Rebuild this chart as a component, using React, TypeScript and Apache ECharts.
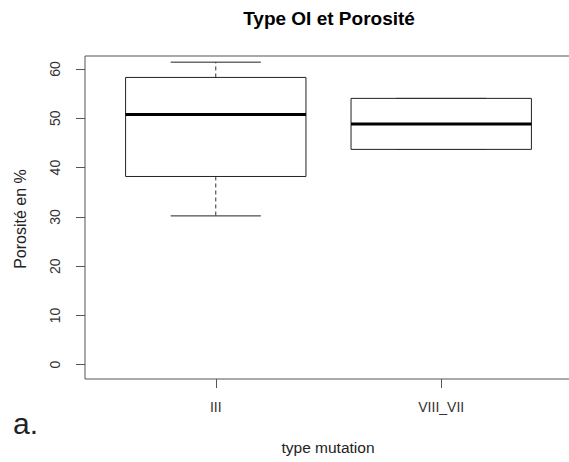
import React, { useEffect, useRef } from 'react';
import * as echarts from 'echarts';

const categories = ['III', 'VIII_VII'];
const whiskerLow = [30.2, 43.7];
const q1 = [38.2, 43.7];
const medians = [50.8, 48.85];
const q3 = [58.3, 54.05];
const whiskerHigh = [61.4, 54.05];
const yTicks = [0, 10, 20, 30, 40, 50, 60];
const xTicks = [1, 2];

const FONT = 'Liberation Sans, Arial, Helvetica, sans-serif';

export default function App() {
  const ref = useRef<HTMLDivElement>(null);
  useEffect(() => {
    const chart = echarts.init(ref.current as HTMLDivElement, null, { renderer: 'svg' });
    const data = categories.map((c, i) => [i + 1, whiskerLow[i], q1[i], medians[i], q3[i], whiskerHigh[i]]);
    const dashed = { stroke: '#333', lineWidth: 1, lineDash: [4, 3] };
    chart.setOption({
      animation: false,
      backgroundColor: '#ffffff',
      grid: {
        left: 85,
        top: 56,
        width: 487,
        height: 323,
        show: true,
        borderColor: '#555',
        borderWidth: 1,
        backgroundColor: 'transparent',
        containLabel: false,
        outerBoundsMode: 'none',
      },
      xAxis: {
        type: 'value',
        min: 0.42,
        max: 2.58,
        axisLine: { show: false, onZero: false },
        splitLine: { show: false },
        axisTick: { show: true, customValues: xTicks, length: 9, lineStyle: { color: '#555', width: 1 } },
        axisLabel: {
          show: true,
          customValues: xTicks,
          formatter: (v: number) => categories[Math.round(v) - 1] ?? '',
          margin: 21,
          fontSize: 14,
          color: '#333',
          fontFamily: FONT,
        },
      },
      yAxis: {
        type: 'value',
        min: -2.9,
        max: 62.65,
        axisLine: { show: false, onZero: false },
        splitLine: { show: false },
        axisTick: { show: true, customValues: yTicks, length: 9, lineStyle: { color: '#555', width: 1 } },
        axisLabel: {
          show: true,
          customValues: yTicks,
          rotate: 90,
          margin: 23,
          fontSize: 14,
          color: '#333',
          fontFamily: FONT,
        },
      },
      series: [
        {
          type: 'custom',
          data,
          encode: { x: 0, y: [1, 2, 3, 4, 5] },
          renderItem: (params: any, api: any) => {
            const x = api.value(0);
            const lo = api.coord([x, api.value(1)]);
            const b1 = api.coord([x, api.value(2)]);
            const md = api.coord([x, api.value(3)]);
            const b3 = api.coord([x, api.value(4)]);
            const hi = api.coord([x, api.value(5)]);
            const halfBox = api.size([0.4, 0])[0];
            const halfCap = api.size([0.2, 0])[0];
            const cx = lo[0];
            return {
              type: 'group',
              children: [
                { type: 'line', shape: { x1: cx, y1: b3[1], x2: cx, y2: hi[1] }, style: dashed },
                { type: 'line', shape: { x1: cx, y1: b1[1], x2: cx, y2: lo[1] }, style: dashed },
                { type: 'line', shape: { x1: cx - halfCap, y1: hi[1], x2: cx + halfCap, y2: hi[1] }, style: { stroke: '#222', lineWidth: 1 } },
                { type: 'line', shape: { x1: cx - halfCap, y1: lo[1], x2: cx + halfCap, y2: lo[1] }, style: { stroke: '#222', lineWidth: 1 } },
                {
                  type: 'rect',
                  shape: { x: cx - halfBox, y: b3[1], width: 2 * halfBox, height: b1[1] - b3[1] },
                  style: { fill: '#fff', stroke: '#222', lineWidth: 1 },
                },
                { type: 'line', shape: { x1: cx - halfBox, y1: md[1], x2: cx + halfBox, y2: md[1] }, style: { stroke: '#000', lineWidth: 3 } },
              ],
            };
          },
        },
      ],
      graphic: [
        {
          type: 'text',
          x: 329,
          y: 18,
          style: {
            text: 'Type OI et Porosité',
            font: `bold 19px ${FONT}`,
            fill: '#000',
            align: 'center',
            verticalAlign: 'middle',
            textAlign: 'center',
            textVerticalAlign: 'middle',
          },
        },
        {
          type: 'text',
          x: 328,
          y: 447,
          style: {
            text: 'type mutation',
            font: `15.5px ${FONT}`,
            fill: '#222',
            align: 'center',
            verticalAlign: 'middle',
            textAlign: 'center',
            textVerticalAlign: 'middle',
          },
        },
        {
          type: 'text',
          x: 20,
          y: 219,
          rotation: Math.PI / 2,
          style: {
            text: 'Porosité en %',
            font: `16px ${FONT}`,
            fill: '#222',
            align: 'center',
            verticalAlign: 'middle',
            textAlign: 'center',
            textVerticalAlign: 'middle',
          },
        },
        {
          type: 'text',
          x: 13,
          y: 423,
          style: {
            text: 'a.',
            font: `30px ${FONT}`,
            fill: '#222',
            align: 'left',
            verticalAlign: 'middle',
            textAlign: 'left',
            textVerticalAlign: 'middle',
          },
        },
      ],
    });
    return () => chart.dispose();
  }, []);
  return <div ref={ref} style={{ position: 'fixed', left: 0, top: 0, width: 569, height: 462 }} />;
}
